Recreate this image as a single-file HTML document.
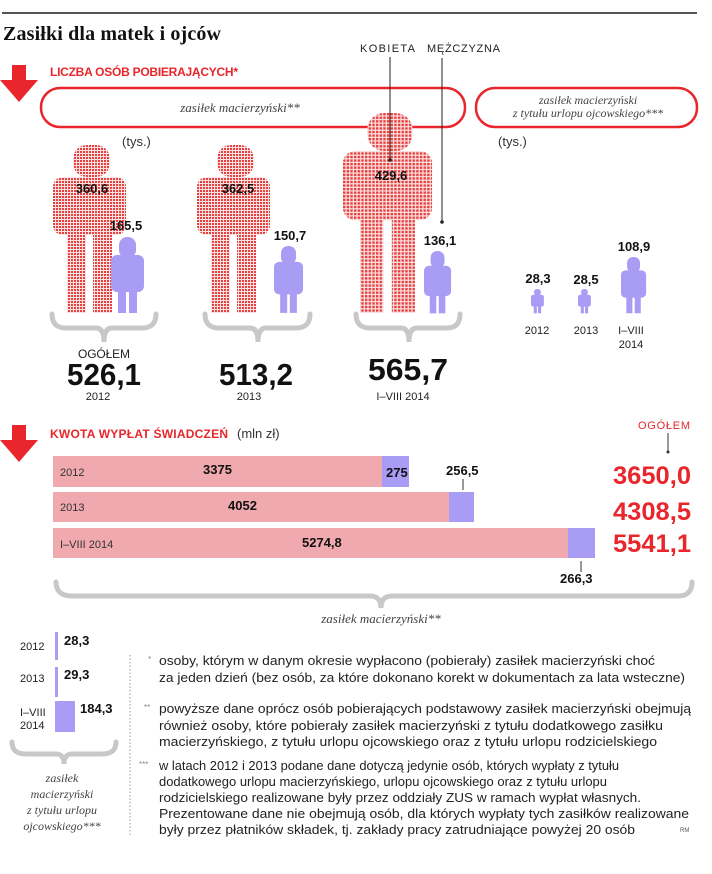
<!DOCTYPE html>
<html><head><meta charset="utf-8"><style>
html,body{margin:0;padding:0;background:#fff;}
svg{display:block;font-family:"Liberation Sans",sans-serif;}
.b{font-weight:bold;}
.ser{font-family:"Liberation Serif",serif;font-style:italic;fill:#444;}
</style></head><body>
<svg width="712" height="874" viewBox="0 0 712 874" xmlns="http://www.w3.org/2000/svg">
<defs>
<pattern id="dots" width="3" height="3" patternUnits="userSpaceOnUse">
<rect width="3" height="3" fill="#fbe2e2"/><rect width="2" height="2" fill="#e6403f"/>
</pattern>
<g id="woman">
<rect x="20" y="0" width="37" height="32" rx="14"/>
<rect x="0" y="32" width="73" height="58" rx="10"/>
<rect x="14" y="84" width="19" height="84"/>
<rect x="40" y="84" width="19" height="84"/>
</g>
<g id="man">
<rect x="8" y="0" width="17" height="21" rx="8"/>
<rect x="0" y="18" width="33" height="37" rx="6"/>
<rect x="7" y="50" width="8" height="26"/>
<rect x="18" y="50" width="8" height="26"/>
</g>
<g id="arrow"><rect x="12" y="0" width="14" height="18" fill="#e8262b"/><polygon points="0,15 38,15 19,37" fill="#e8262b"/></g>
</defs>

<rect x="2" y="12" width="695" height="2" fill="#555"/>
<text x="3" y="40" font-family="Liberation Serif,serif" font-weight="bold" font-size="20" fill="#111" textLength="218">Zasiłki dla matek i ojców</text>
<text x="360" y="52" font-size="11" fill="#222" textLength="55">KOBIETA</text>
<text x="427" y="52" font-size="11" fill="#222" textLength="73">MĘŻCZYZNA</text>

<use href="#arrow" x="0" y="65"/>
<text x="50" y="76" font-size="12" class="b" fill="#e8262b" textLength="188">LICZBA OSÓB POBIERAJĄCYCH*</text>

<rect x="41" y="88" width="424" height="39" rx="19" fill="none" stroke="#e8262b" stroke-width="2.5"/>
<rect x="476" y="88" width="221" height="39" rx="19" fill="none" stroke="#e8262b" stroke-width="2.5"/>
<text x="240" y="112" text-anchor="middle" font-size="13" class="ser">zasiłek macierzyński**</text>
<text x="588" y="104" text-anchor="middle" font-size="12" class="ser">zasiłek macierzyński</text>
<text x="588" y="117" text-anchor="middle" font-size="12" class="ser">z tytułu urlopu ojcowskiego***</text>

<text x="122" y="146" font-size="13" fill="#333">(tys.)</text>
<text x="498" y="146" font-size="13" fill="#333">(tys.)</text>

<use href="#woman" x="53" y="145" fill="url(#dots)"/>
<use href="#woman" x="197" y="145" fill="url(#dots)"/>
<g transform="translate(343,113) scale(1.22,1.19)" fill="url(#dots)"><use href="#woman"/></g>
<g fill="#a99cf5">
<use href="#man" x="111" y="237"/>
<g transform="translate(274,246) scale(0.88)"><use href="#man"/></g>
<g transform="translate(424,251) scale(0.82)"><use href="#man"/></g>
<g transform="translate(531,289) scale(0.39,0.32)"><use href="#man"/></g>
<g transform="translate(578,289) scale(0.39,0.32)"><use href="#man"/></g>
<g transform="translate(621,257) scale(0.76,0.74)"><use href="#man"/></g>
</g>

<line x1="390" y1="57" x2="390" y2="160" stroke="#222" stroke-width="1"/>
<circle cx="390" cy="160" r="1.8" fill="#222"/>
<line x1="442" y1="58" x2="442" y2="222" stroke="#222" stroke-width="1"/>
<circle cx="442" cy="222" r="1.8" fill="#222"/>

<g class="b" font-size="13" fill="#111" text-anchor="middle">
<text x="92" y="193">360,6</text>
<text x="126" y="230">165,5</text>
<text x="238" y="193">362,5</text>
<text x="290" y="240">150,7</text>
<text x="391" y="180">429,6</text>
<text x="440" y="245">136,1</text>
<text x="538" y="283">28,3</text>
<text x="586" y="284">28,5</text>
<text x="634" y="251">108,9</text>
</g>

<g fill="none" stroke="#c8c8c8" stroke-width="5" stroke-linecap="round">
<path d="M52,314 Q52,328 66,328 L96,328 Q104,328 104,342 Q104,328 112,328 L142,328 Q156,328 156,314"/>
<path d="M205,314 Q205,328 219,328 L250,328 Q258,328 258,342 Q258,328 266,328 L296,328 Q310,328 310,314"/>
<path d="M356,314 Q356,328 370,328 L401,328 Q409,328 409,342 Q409,328 417,328 L447,328 Q460,328 460,314"/>
</g>

<text x="78" y="358" font-size="12" fill="#222" textLength="52">OGÓŁEM</text>
<g class="b" font-size="31" fill="#111" text-anchor="middle">
<text x="104" y="385" textLength="74" lengthAdjust="spacingAndGlyphs">526,1</text>
<text x="256" y="385" textLength="74" lengthAdjust="spacingAndGlyphs">513,2</text>
<text x="408" y="380" textLength="80" lengthAdjust="spacingAndGlyphs">565,7</text>
</g>
<g font-size="11" fill="#222" text-anchor="middle">
<text x="98" y="400">2012</text>
<text x="249" y="400">2013</text>
<text x="403" y="400">I–VIII 2014</text>
<text x="537" y="334">2012</text>
<text x="586" y="334">2013</text>
<text x="631" y="334">I–VIII</text>
<text x="631" y="348">2014</text>
</g>

<use href="#arrow" x="0" y="425"/>
<text x="50" y="438" font-size="12" class="b" fill="#e8262b" textLength="178">KWOTA WYPŁAT ŚWIADCZEŃ</text>
<text x="237" y="438" font-size="13" fill="#333">(mln zł)</text>
<text x="638" y="429" font-size="11" fill="#e8262b" textLength="52">OGÓŁEM</text>
<line x1="668" y1="433" x2="668" y2="452" stroke="#333"/><circle cx="668" cy="452" r="1.5" fill="#333"/>

<rect x="53" y="456" width="329" height="31" fill="#f0a9ae"/>
<rect x="382" y="456" width="27" height="31" fill="#a99cf5"/>
<rect x="53" y="492" width="396" height="30" fill="#f0a9ae"/>
<rect x="449" y="492" width="25" height="30" fill="#a99cf5"/>
<rect x="53" y="528" width="515" height="30" fill="#f0a9ae"/>
<rect x="568" y="528" width="27" height="30" fill="#a99cf5"/>

<g font-size="11" fill="#333">
<text x="60" y="476">2012</text>
<text x="60" y="511">2013</text>
<text x="60" y="548">I–VIII 2014</text>
</g>
<g class="b" font-size="13" fill="#111">
<text x="203" y="474">3375</text>
<text x="386" y="477">275</text>
<text x="228" y="510">4052</text>
<text x="302" y="547">5274,8</text>
<text x="446" y="475">256,5</text>
<text x="560" y="583">266,3</text>
</g>
<line x1="463" y1="479" x2="463" y2="490" stroke="#333"/>
<line x1="581" y1="561" x2="581" y2="572" stroke="#333"/>
<g class="b" font-size="25" fill="#e8262b" text-anchor="end">
<text x="691" y="484" textLength="78" lengthAdjust="spacingAndGlyphs">3650,0</text>
<text x="691" y="520" textLength="78" lengthAdjust="spacingAndGlyphs">4308,5</text>
<text x="691" y="552" textLength="78" lengthAdjust="spacingAndGlyphs">5541,1</text>
</g>

<path d="M56,582 Q56,596 72,596 L370,596 Q381,596 381,608 Q381,596 392,596 L678,596 Q692,596 692,582" fill="none" stroke="#c8c8c8" stroke-width="5" stroke-linecap="round"/>
<text x="381" y="623" text-anchor="middle" font-size="13" class="ser">zasiłek macierzyński**</text>

<rect x="55" y="632" width="3" height="28" fill="#a99cf5"/>
<rect x="55" y="667" width="3" height="30" fill="#a99cf5"/>
<rect x="55" y="701" width="20" height="31" fill="#a99cf5"/>
<g font-size="11" fill="#222">
<text x="20" y="650">2012</text>
<text x="20" y="682">2013</text>
<text x="20" y="716">I–VIII</text>
<text x="20" y="729">2014</text>
</g>
<g class="b" font-size="13" fill="#111">
<text x="64" y="645">28,3</text>
<text x="64" y="679">29,3</text>
<text x="80" y="713">184,3</text>
</g>
<path d="M12,742 Q12,754 26,754 L56,754 Q64,754 64,764 Q64,754 72,754 L102,754 Q116,754 116,742" fill="none" stroke="#c8c8c8" stroke-width="5" stroke-linecap="round"/>
<g font-size="12" class="ser" text-anchor="middle">
<text x="62" y="782">zasiłek</text>
<text x="62" y="798">macierzyński</text>
<text x="62" y="814">z tytułu urlopu</text>
<text x="62" y="830">ojcowskiego***</text>
</g>
<line x1="130" y1="655" x2="130" y2="836" stroke="#999" stroke-dasharray="1.5,2"/>

<g font-size="13" fill="#222" lengthAdjust="spacingAndGlyphs">
<text x="148" y="662" font-size="8" fill="#888">*</text>
<text x="159" y="665" textLength="496" lengthAdjust="spacingAndGlyphs">osoby, którym w danym okresie wypłacono (pobierały) zasiłek macierzyński choć</text>
<text x="159" y="682" textLength="526" lengthAdjust="spacingAndGlyphs">za jeden dzień (bez osób, za które dokonano korekt w dokumentach za lata wsteczne)</text>
<text x="144" y="710" font-size="8" fill="#888">**</text>
<text x="159" y="713" textLength="532" lengthAdjust="spacingAndGlyphs">powyższe dane oprócz osób pobierających podstawowy zasiłek macierzyński obejmują</text>
<text x="159" y="730" textLength="504" lengthAdjust="spacingAndGlyphs">również osoby, które pobierały zasiłek macierzyński z tytułu dodatkowego zasiłku</text>
<text x="159" y="746" textLength="498" lengthAdjust="spacingAndGlyphs">macierzyńskiego, z tytułu urlopu ojcowskiego oraz z tytułu urlopu rodzicielskiego</text>
<text x="139" y="767" font-size="8" fill="#888">***</text>
<text x="159" y="770" textLength="460" lengthAdjust="spacingAndGlyphs">w latach 2012 i 2013 podane dane dotyczą jedynie osób, których wypłaty z tytułu</text>
<text x="159" y="786" textLength="448" lengthAdjust="spacingAndGlyphs">dodatkowego urlopu macierzyńskiego, urlopu ojcowskiego oraz z tytułu urlopu</text>
<text x="159" y="802" textLength="482" lengthAdjust="spacingAndGlyphs">rodzicielskiego realizowane były przez oddziały ZUS w ramach wypłat własnych.</text>
<text x="159" y="818" textLength="530" lengthAdjust="spacingAndGlyphs">Prezentowane dane nie obejmują osób, dla których wypłaty tych zasiłków realizowane</text>
<text x="159" y="834" textLength="476" lengthAdjust="spacingAndGlyphs">były przez płatników składek, tj. zakłady pracy zatrudniające powyżej 20 osób</text>
</g>
<text x="680" y="832" font-size="6" fill="#555">RM</text>
</svg>
</body></html>
